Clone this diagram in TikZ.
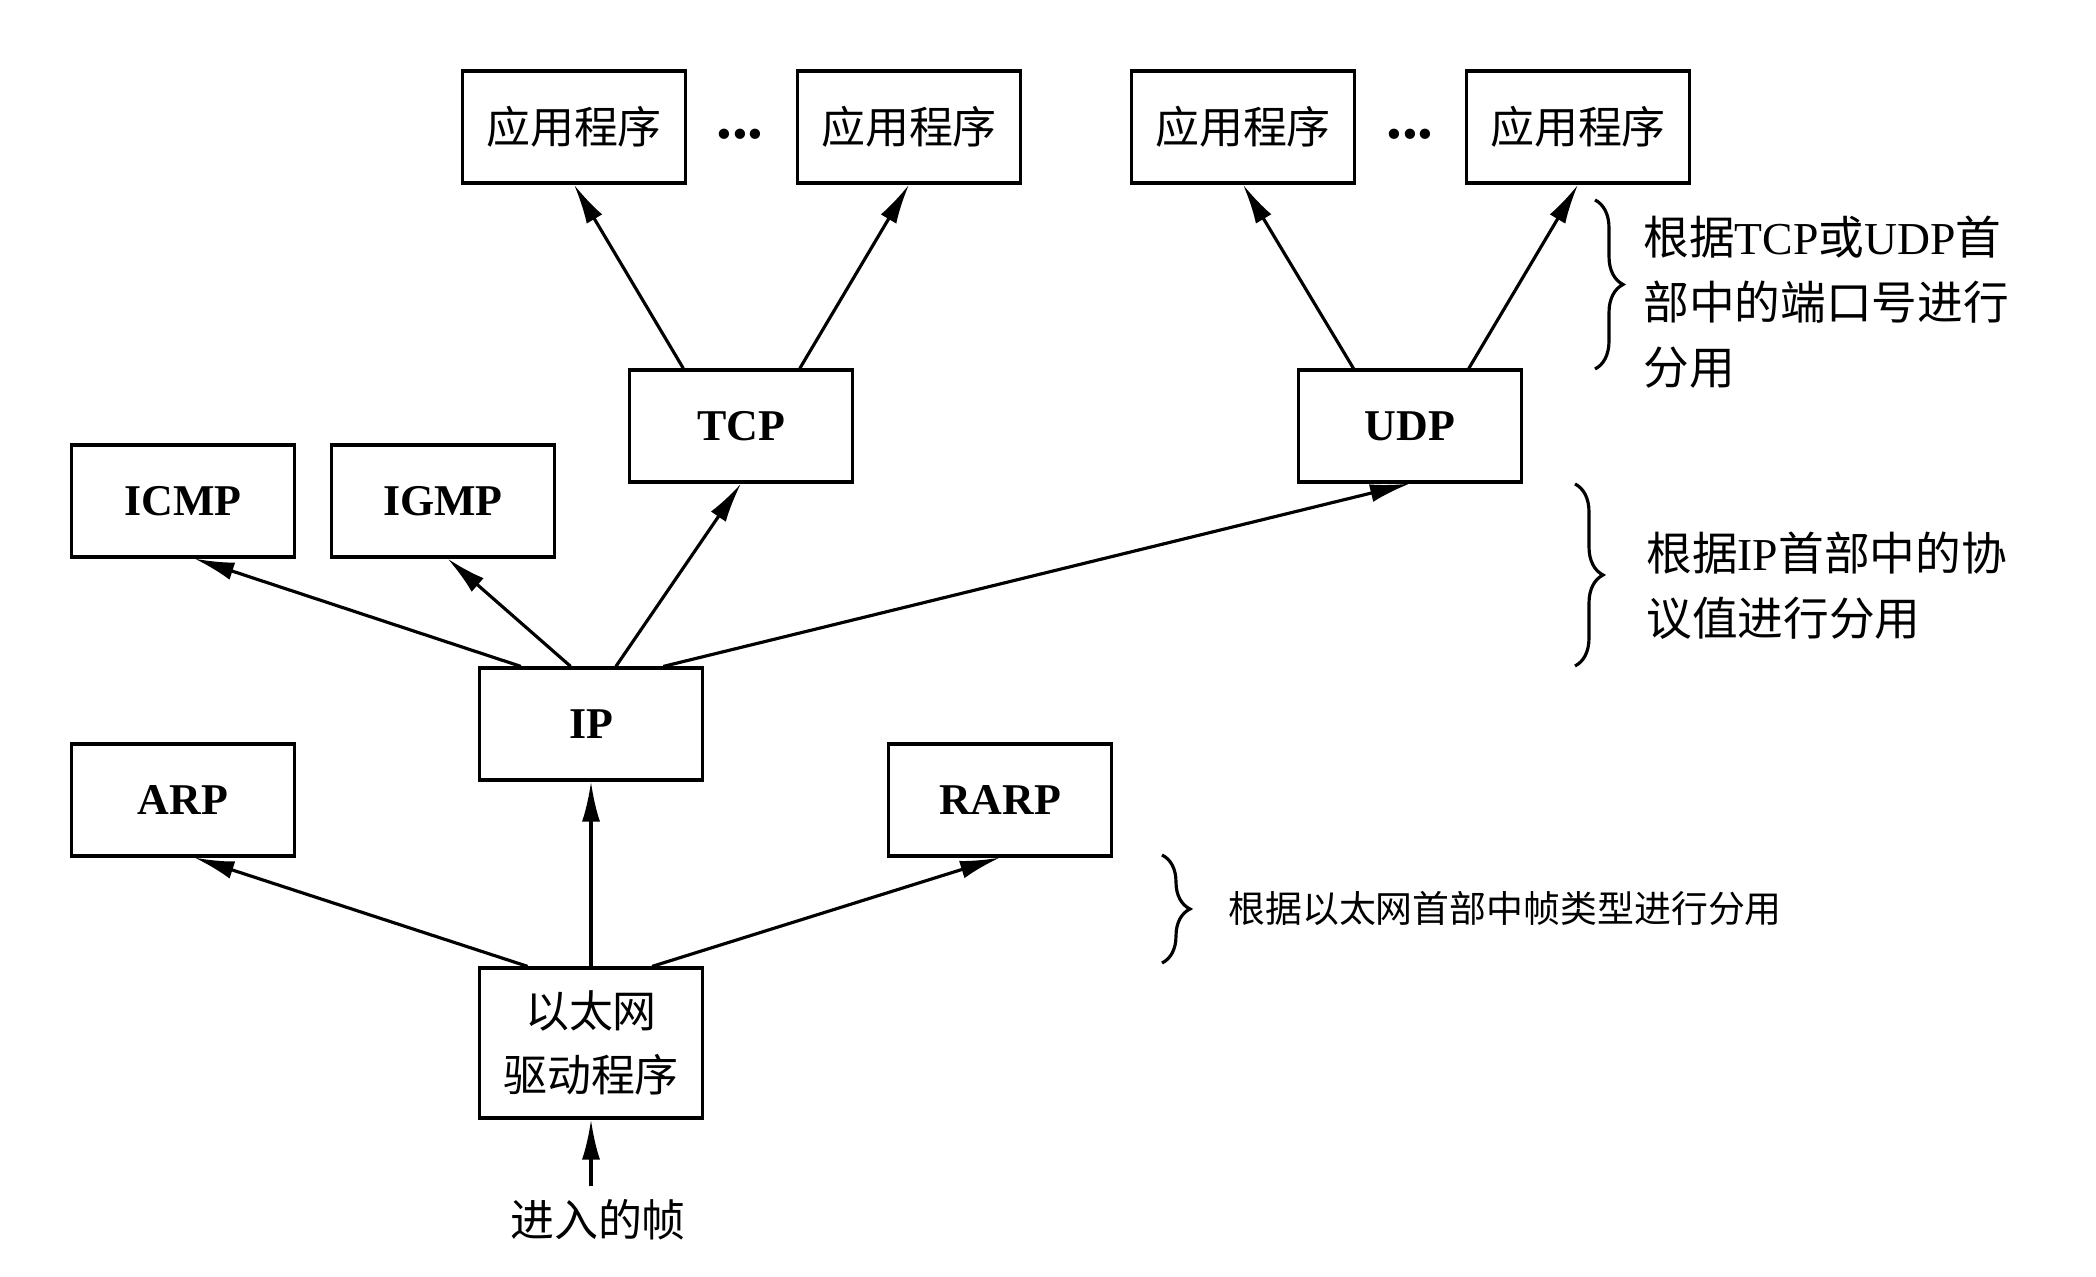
\documentclass[tikz,border=0pt]{standalone}
\usepackage{fontspec}
\setmainfont{Liberation Serif}
\newfontfamily\cjk{Noto Sans CJK SC}
\usetikzlibrary{calc,arrows.meta,decorations.pathreplacing}

\begin{document}
\begin{tikzpicture}[line width=0.9pt,
  box/.style={draw, minimum width=2.23cm, minimum height=1.12cm, inner sep=0pt},
  proto/.style={box, font=\fontsize{12.5}{14}\selectfont\bfseries},
  app/.style={box, align=center, font=\fontsize{12.5}{18}\selectfont\cjk},
  arr/.style={-{Latex[length=4mm,width=1.8mm]}},
  brc/.style={decorate, decoration={brace, amplitude=0.28cm}},
  dotsnode/.style={inner sep=0pt, font=\fontsize{18}{18}\selectfont\bfseries},
  note/.style={anchor=west, align=left, font=\fontsize{13}{18.5}\selectfont\cjk}]
  \useasboundingbox (0,0) rectangle (20.96,12.76);
  % 应用程序
  \node[app] (app1) at (5.74,11.49) {应用程序};
  \node[app] (app2) at (9.09,11.49) {应用程序};
  \node[app] (app3) at (12.43,11.49) {应用程序};
  \node[app] (app4) at (15.78,11.49) {应用程序};
  \node[dotsnode] (dotsa) at (7.40,11.42) {...};
  \node[dotsnode] (dotsb) at (14.10,11.42) {...};
  % 协议模块
  \node[proto] (tcp) at (7.41,8.50) {TCP};
  \node[proto] (udp) at (14.10,8.50) {UDP};
  \node[proto] (icmp) at (1.83,7.75) {ICMP};
  \node[proto] (igmp) at (4.43,7.75) {IGMP};
  \node[proto] (ip) at (5.91,5.52) {IP};
  \node[proto] (arp) at (1.83,4.76) {ARP};
  \node[proto] (rarp) at (10.00,4.76) {RARP};
  \node[app, minimum height=1.5cm] (eth) at (5.91,2.33) {以太网\\驱动程序};
  \node[font=\fontsize{12.5}{14}\selectfont\cjk] (frame) at (5.98,0.56) {进入的帧};
  % 分用箭头
  \draw[arr] ($(tcp.north west)!0.245!(tcp.north east)$) -- (app1.south);
  \draw[arr] ($(tcp.north west)!0.76!(tcp.north east)$) -- (app2.south);
  \draw[arr] ($(udp.north west)!0.25!(udp.north east)$) -- (app3.south);
  \draw[arr] ($(udp.north west)!0.76!(udp.north east)$) -- (app4.south);
  \draw[arr] ($(ip.north west)!0.19!(ip.north east)$) -- ($(icmp.south west)!0.55!(icmp.south east)$);
  \draw[arr] ($(ip.north west)!0.41!(ip.north east)$) -- ($(igmp.south west)!0.52!(igmp.south east)$);
  \draw[arr] ($(ip.north west)!0.61!(ip.north east)$) -- (tcp.south);
  \draw[arr] ($(ip.north west)!0.82!(ip.north east)$) -- (udp.south);
  \draw[arr] ($(eth.north west)!0.22!(eth.north east)$) -- ($(arp.south west)!0.55!(arp.south east)$);
  \draw[arr] (eth.north) -- (ip.south);
  \draw[arr] ($(eth.north west)!0.77!(eth.north east)$) -- (rarp.south);
  \draw[arr] (eth.south |- frame.north) -- (eth.south);
  % 花括号与说明
  \coordinate (b1t) at (15.95,10.76);
  \coordinate (b1b) at (15.95,9.07);
  \coordinate (b2t) at (15.75,7.92);
  \coordinate (b2b) at (15.75,6.10);
  \coordinate (b3t) at (11.62,4.21);
  \coordinate (b3b) at (11.62,3.13);
  \draw[brc] (b1t) -- (b1b);
  \draw[brc] (b2t) -- (b2b);
  \draw[brc] (b3t) -- (b3b);
  \node[note] (n1) at (16.30,9.74) {根据{\rmfamily TCP}或{\rmfamily UDP}首\\部中的端口号进行\\分用};
  \node[note] (n2) at (16.33,6.90) {根据{\rmfamily IP}首部中的协\\议值进行分用};
  \node[note, font=\fontsize{10.5}{12}\selectfont\cjk] (n3) at (12.15,3.67) {根据以太网首部中帧类型进行分用};
\end{tikzpicture}
\end{document}
